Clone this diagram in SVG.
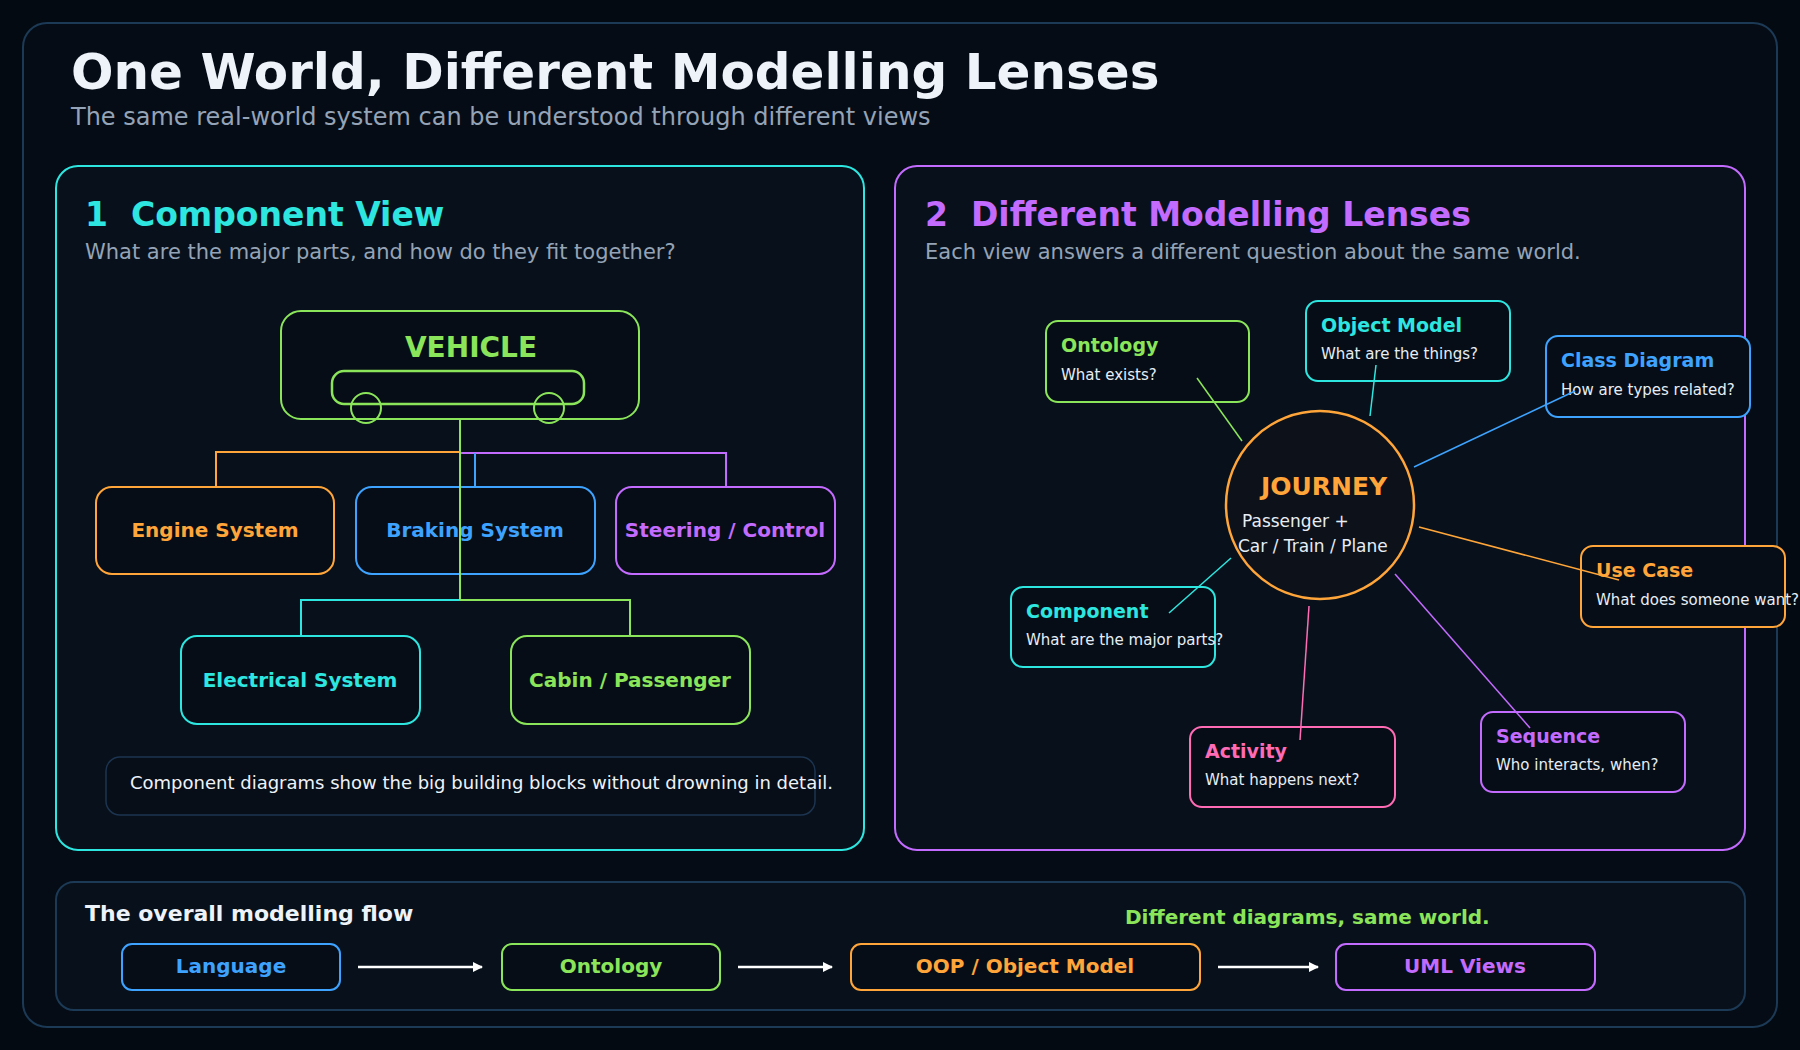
<svg xmlns="http://www.w3.org/2000/svg" width="1800" height="1050" viewBox="0 0 1800 1050">
<defs>
<marker id="ah" viewBox="0 0 10 10" refX="9" refY="5" markerWidth="10" markerHeight="10" markerUnits="userSpaceOnUse" orient="auto"><path d="M0,0 L10,5 L0,10 z" fill="#ffffff"/></marker>
</defs>
<style>
text{font-family:"DejaVu Sans","Liberation Sans",sans-serif}
.box{fill:#070d16;stroke-width:2}
.bt{font-size:19px;font-weight:bold}
.bs{font-size:15px;fill:#e6edf5}
.nt{font-size:20px;font-weight:bold;text-anchor:middle}
.g{stroke:#8be55a}.c{stroke:#2ee6e0}.o{stroke:#ffa53a}.b{stroke:#3ea3ff}.p{stroke:#c46bff}.k{stroke:#ff6bb5}
.fg{fill:#8be55a}.fc{fill:#2ee6e0}.fo{fill:#ffa53a}.fb{fill:#3ea3ff}.fp{fill:#c46bff}.fk{fill:#ff6bb5}
</style>
<rect width="1800" height="1050" fill="#040a12"/>
<rect x="23" y="23" width="1754" height="1004" rx="24" fill="#050c15" stroke="#1c3a55" stroke-width="2"/>
<text x="71" y="89" font-size="50" font-weight="bold" fill="#eef3fa">One World, Different Modelling Lenses</text>
<text x="71" y="125" font-size="24" fill="#95a3b6">The same real-world system can be understood through different views</text>

<g id="panel1">
<rect x="56" y="166" width="808" height="684" rx="22" fill="#08111b" stroke="#2ee6e0" stroke-width="2"/>
<text x="85" y="226" font-size="33" font-weight="bold" fill="#2ee6e0" xml:space="preserve">1  Component View</text>
<text x="85" y="259" font-size="21" fill="#95a3b6">What are the major parts, and how do they fit together?</text>
</g>
<g id="panel2">
<rect x="895" y="166" width="850" height="684" rx="22" fill="#08111b" stroke="#c46bff" stroke-width="2"/>
<text x="925" y="226" font-size="33" font-weight="bold" fill="#c46bff" xml:space="preserve">2  Different Modelling Lenses</text>
<text x="925" y="259" font-size="21" fill="#95a3b6">Each view answers a different question about the same world.</text>
</g>

<g id="vehicle">
<rect x="281" y="311" width="358" height="108" rx="20" class="box g" stroke-width="2.5"/>
<text x="471" y="357" font-size="28" font-weight="bold" text-anchor="middle" class="fg">VEHICLE</text>
<rect x="332" y="371" width="252" height="33" rx="12" fill="none" class="g" stroke-width="2.5"/>
<circle cx="366" cy="408" r="15" fill="none" class="g" stroke-width="2"/>
<circle cx="549" cy="408" r="15" fill="none" class="g" stroke-width="2"/>
</g>
<g id="engine"><rect x="96" y="487" width="238" height="87" rx="16" class="box o"/><text x="215" y="537" class="nt fo">Engine System</text></g>
<g id="braking"><rect x="356" y="487" width="239" height="87" rx="16" class="box b"/><text x="475" y="537" class="nt fb">Braking System</text></g>
<g id="steering"><rect x="616" y="487" width="219" height="87" rx="16" class="box p"/><text x="725" y="537" class="nt fp">Steering / Control</text></g>
<g id="electrical"><rect x="181" y="636" width="239" height="88" rx="16" class="box c"/><text x="300" y="687" class="nt fc">Electrical System</text></g>
<g id="cabin"><rect x="511" y="636" width="239" height="88" rx="16" class="box g"/><text x="630" y="687" class="nt fg">Cabin / Passenger</text></g>
<g id="note"><rect x="106" y="757" width="709" height="58" rx="14" fill="#070e17" stroke="#1c3450" stroke-width="1.5"/><text x="130" y="789" font-size="18" fill="#eef3fa">Component diagrams show the big building blocks without drowning in detail.</text></g>

<g id="journey">
<circle cx="1320" cy="505" r="94" fill="#0d1119" stroke="#ffa53a" stroke-width="2.5"/>
<text x="1324" y="495" font-size="25" font-weight="bold" text-anchor="middle" fill="#ffa53a">JOURNEY</text>
<text x="1242" y="527" font-size="17" fill="#e6edf5">Passenger +</text>
<text x="1238" y="552" font-size="17" fill="#e6edf5">Car / Train / Plane</text>
</g>
<g id="ontology"><rect x="1046" y="321" width="203" height="81" rx="12" class="box g"/><text x="1061" y="352" class="bt fg">Ontology</text><text x="1061" y="380" class="bs">What exists?</text></g>
<g id="objectmodel"><rect x="1306" y="301" width="204" height="80" rx="12" class="box c"/><text x="1321" y="332" class="bt fc">Object Model</text><text x="1321" y="359" class="bs">What are the things?</text></g>
<g id="classdiagram"><rect x="1546" y="336" width="204" height="81" rx="12" class="box b"/><text x="1561" y="367" class="bt fb">Class Diagram</text><text x="1561" y="395" class="bs">How are types related?</text></g>
<g id="usecase"><rect x="1581" y="546" width="204" height="81" rx="12" class="box o"/><text x="1596" y="577" class="bt fo">Use Case</text><text x="1596" y="605" class="bs">What does someone want?</text></g>
<g id="component"><rect x="1011" y="587" width="204" height="80" rx="12" class="box c"/><text x="1026" y="618" class="bt fc">Component</text><text x="1026" y="645" class="bs">What are the major parts?</text></g>
<g id="activity"><rect x="1190" y="727" width="205" height="80" rx="12" class="box k"/><text x="1205" y="758" class="bt fk">Activity</text><text x="1205" y="785" class="bs">What happens next?</text></g>
<g id="sequence"><rect x="1481" y="712" width="204" height="80" rx="12" class="box p"/><text x="1496" y="743" class="bt fp">Sequence</text><text x="1496" y="770" class="bs">Who interacts, when?</text></g>

<g id="flowpanel">
<rect x="56" y="882" width="1689" height="128" rx="18" fill="#08111b" stroke="#1c3a55" stroke-width="2"/>
<text x="85" y="921" font-size="22" font-weight="bold" fill="#eef3fa">The overall modelling flow</text>
<text x="1125" y="924" font-size="20" font-weight="bold" fill="#8be55a">Different diagrams, same world.</text>
</g>
<g id="f-language"><rect x="122" y="944" width="218" height="46" rx="10" class="box b"/><text x="231" y="973" class="nt fb">Language</text></g>
<g id="f-ontology"><rect x="502" y="944" width="218" height="46" rx="10" class="box g"/><text x="611" y="973" class="nt fg">Ontology</text></g>
<g id="f-oop"><rect x="851" y="944" width="349" height="46" rx="10" class="box o"/><text x="1025" y="973" class="nt fo">OOP / Object Model</text></g>
<g id="f-uml"><rect x="1336" y="944" width="259" height="46" rx="10" class="box p"/><text x="1465" y="973" class="nt fp">UML Views</text></g>

<g id="connectors" fill="none" stroke-width="2">
<path class="o" d="M460,452 H216 V487"/>
<path class="p" d="M460,453 H726 V487"/>
<path class="b" d="M475,453 V487"/>
<path class="c" d="M460,600 H301 V636"/>
<path class="g" d="M460,600 H630 V636"/>
<path class="g" d="M460,419 V600"/>
<g stroke-width="1.5">
<line class="g" x1="1197" y1="378" x2="1242" y2="441"/>
<line class="c" x1="1376" y1="365" x2="1370" y2="416"/>
<line class="b" x1="1575" y1="391" x2="1414" y2="467"/>
<line class="o" x1="1419" y1="527" x2="1619" y2="580"/>
<line class="c" x1="1231" y1="558" x2="1169" y2="613"/>
<line class="k" x1="1309" y1="606" x2="1300" y2="740"/>
<line class="p" x1="1395" y1="574" x2="1530" y2="728"/>
</g>
<g stroke="#ffffff" stroke-width="2.5" marker-end="url(#ah)">
<line x1="358" y1="967" x2="482" y2="967"/>
<line x1="738" y1="967" x2="832" y2="967"/>
<line x1="1218" y1="967" x2="1318" y2="967"/>
</g>
</g>
</svg>
